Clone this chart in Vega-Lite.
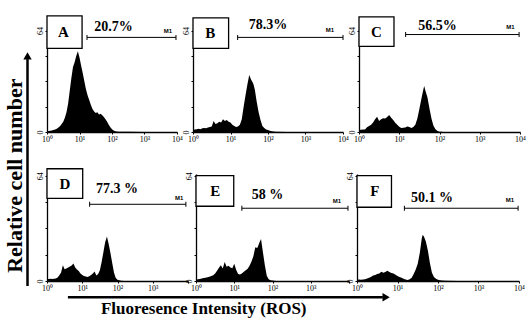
{
  "$schema": "https://vega.github.io/schema/vega-lite/v6.json",
  "background": "white",
  "padding": {"left": 2, "top": 15, "right": 2, "bottom": 0},
  "config": {
    "view": {"stroke": null},
    "font": "Liberation Serif",
    "axis": {"domainColor": "black", "tickColor": "black", "labelColor": "black", "grid": false, "labelFont": "Liberation Serif", "labelFontSize": 8, "tickSize": 2, "labelPadding": 1, "domainWidth": 1.3, "tickWidth": 1}
  },
  "datasets": {
    "hist": [
      {"x": 1, "A": 0.5, "B": 1.2, "C": 1.2, "D": 1.0, "E": 0.8, "F": 0.8},
      {"x": 1.12, "A": 0.6, "B": 1.5, "C": 1.4, "D": 1.2, "E": 1.0, "F": 0.9},
      {"x": 1.26, "A": 0.8, "B": 1.8, "C": 1.5, "D": 1.3, "E": 1.2, "F": 0.8},
      {"x": 1.41, "A": 1.0, "B": 2.0, "C": 1.6, "D": 1.2, "E": 1.5, "F": 0.9},
      {"x": 1.58, "A": 1.3, "B": 1.8, "C": 3.0, "D": 1.4, "E": 1.8, "F": 1.0},
      {"x": 1.78, "A": 1.6, "B": 2.3, "C": 3.8, "D": 1.5, "E": 2.0, "F": 1.5},
      {"x": 2, "A": 2.0, "B": 2.5, "C": 4.5, "D": 2.2, "E": 2.3, "F": 2.0},
      {"x": 2.24, "A": 2.8, "B": 2.4, "C": 6.0, "D": 3.5, "E": 2.6, "F": 2.6},
      {"x": 2.51, "A": 3.6, "B": 2.8, "C": 8.0, "D": 5.2, "E": 3.0, "F": 3.3},
      {"x": 2.82, "A": 5.0, "B": 3.2, "C": 9.7, "D": 9.6, "E": 3.5, "F": 3.7},
      {"x": 3.16, "A": 6.5, "B": 3.5, "C": 7.0, "D": 7.2, "E": 4.5, "F": 4.2},
      {"x": 3.55, "A": 9.0, "B": 7.0, "C": 8.0, "D": 7.6, "E": 6.2, "F": 4.6},
      {"x": 3.98, "A": 12.5, "B": 5.0, "C": 8.7, "D": 8.2, "E": 8.0, "F": 5.6},
      {"x": 4.47, "A": 18, "B": 5.5, "C": 8.5, "D": 8.8, "E": 9.5, "F": 5.0},
      {"x": 5.01, "A": 26, "B": 6.5, "C": 9.5, "D": 9.4, "E": 7.6, "F": 5.5},
      {"x": 5.62, "A": 34, "B": 6.0, "C": 10.7, "D": 10.6, "E": 11.5, "F": 6.2},
      {"x": 6.31, "A": 41, "B": 8.0, "C": 9.0, "D": 8.2, "E": 8.6, "F": 5.4},
      {"x": 7.08, "A": 44, "B": 7.0, "C": 7.5, "D": 7.0, "E": 9.3, "F": 4.8},
      {"x": 7.94, "A": 48, "B": 7.5, "C": 5.8, "D": 6.0, "E": 8.2, "F": 4.5},
      {"x": 8.91, "A": 51, "B": 6.5, "C": 4.5, "D": 4.5, "E": 7.8, "F": 3.8},
      {"x": 10, "A": 47, "B": 6.0, "C": 3.3, "D": 3.6, "E": 10.5, "F": 3.0},
      {"x": 11.2, "A": 42, "B": 4.5, "C": 2.6, "D": 3.0, "E": 6.8, "F": 2.5},
      {"x": 12.6, "A": 37, "B": 3.8, "C": 2.7, "D": 2.8, "E": 4.2, "F": 1.9},
      {"x": 14.1, "A": 32, "B": 3.2, "C": 2.9, "D": 2.5, "E": 3.9, "F": 1.3},
      {"x": 15.8, "A": 27, "B": 3.5, "C": 3.4, "D": 2.9, "E": 4.6, "F": 0.9},
      {"x": 17.8, "A": 23, "B": 4.5, "C": 3.2, "D": 3.6, "E": 5.6, "F": 0.6},
      {"x": 20, "A": 20, "B": 8.0, "C": 2.6, "D": 4.5, "E": 6.5, "F": 1.0},
      {"x": 22.4, "A": 17, "B": 16, "C": 3.2, "D": 5.8, "E": 7.5, "F": 2.0},
      {"x": 25.1, "A": 14.5, "B": 23, "C": 4.5, "D": 3.4, "E": 9.3, "F": 4.2},
      {"x": 28.2, "A": 13, "B": 30, "C": 8.5, "D": 4.2, "E": 11.8, "F": 7.0},
      {"x": 31.6, "A": 12, "B": 36, "C": 14.5, "D": 6.5, "E": 15, "F": 10.5},
      {"x": 35.5, "A": 12.5, "B": 33, "C": 21, "D": 11.5, "E": 20.5, "F": 17},
      {"x": 39.8, "A": 11, "B": 31, "C": 27, "D": 17.5, "E": 20, "F": 26},
      {"x": 41.7, "A": 11.2, "B": 29.5, "C": 29, "D": 20, "E": 21, "F": 28},
      {"x": 44.7, "A": 11.5, "B": 26.5, "C": 26, "D": 23.5, "E": 23, "F": 27.2},
      {"x": 50.1, "A": 10.5, "B": 19, "C": 22, "D": 27, "E": 25.5, "F": 24},
      {"x": 56.2, "A": 9.5, "B": 12.5, "C": 15, "D": 22.5, "E": 17.5, "F": 18.5},
      {"x": 63.1, "A": 8, "B": 7.5, "C": 8.5, "D": 17, "E": 9.5, "F": 11},
      {"x": 70.8, "A": 6.5, "B": 3.8, "C": 4, "D": 11, "E": 3.2, "F": 5},
      {"x": 79.4, "A": 4.5, "B": 2.5, "C": 1.8, "D": 5.2, "E": 1.1, "F": 2.5},
      {"x": 89.1, "A": 3, "B": 1.6, "C": 0.6, "D": 1.8, "E": 0.5, "F": 1.3},
      {"x": 100, "A": 1.8, "B": 1.2, "C": 0.2, "D": 0.8, "E": 0.3, "F": 0.8},
      {"x": 112, "A": 1, "B": 0.8, "C": 0.1, "D": 0.4, "E": 0.15, "F": 0.5},
      {"x": 126, "A": 0.5, "B": 0.4, "C": 0, "D": 0.2, "E": 0, "F": 0.3},
      {"x": 158, "A": 0.2, "B": 0.2, "C": 0, "D": 0, "E": 0, "F": 0.1},
      {"x": 316, "A": 0.1, "B": 0, "C": 0, "D": 0, "E": 0, "F": 0},
      {"x": 1000, "A": 0, "B": 0, "C": 0, "D": 0, "E": 0, "F": 0},
      {"x": 10000, "A": 0, "B": 0, "C": 0, "D": 0, "E": 0, "F": 0}
    ],
    "ann": [
      {"p": "A", "bx1": 1, "bx2": 12, "by1": 52.8, "by2": 73.3, "lab": "A", "lx": 3.2, "ly": 63, "pct": "20.7%", "tx": 112, "ty": 66.5, "m1a": 17, "m1b": 9300, "m1y": 59.7, "mx": 5250, "my": 64},
      {"p": "B", "bx1": 1, "bx2": 8.9, "by1": 52.8, "by2": 72, "lab": "B", "lx": 2.9, "ly": 62.4, "pct": "78.3%", "tx": 100, "ty": 67.7, "m1a": 15.5, "m1b": 10000, "m1y": 59.7, "mx": 4470, "my": 64.6},
      {"p": "C", "bx1": 1, "bx2": 7.4, "by1": 54, "by2": 72.7, "lab": "C", "lx": 2.7, "ly": 63.4, "pct": "56.5%", "tx": 89, "ty": 67.1, "m1a": 14.4, "m1b": 9500, "m1y": 61.5, "mx": 5750, "my": 66.5},
      {"p": "D", "bx1": 1, "bx2": 10.3, "by1": 50.2, "by2": 68.2, "lab": "D", "lx": 3.2, "ly": 59.2, "pct": "77.3 %", "tx": 97, "ty": 55.6, "m1a": 16.2, "m1b": 8700, "m1y": 46.6, "mx": 5600, "my": 50.2},
      {"p": "E", "bx1": 1, "bx2": 9.7, "by1": 45.4, "by2": 64, "lab": "E", "lx": 3.2, "ly": 54.4, "pct": "58 %", "tx": 74, "ty": 52, "m1a": 15.8, "m1b": 9400, "m1y": 44.2, "mx": 4800, "my": 48.4},
      {"p": "F", "bx1": 1, "bx2": 7.1, "by1": 44.8, "by2": 64, "lab": "F", "lx": 2.75, "ly": 54.4, "pct": "50.1 %", "tx": 71, "ty": 50.2, "m1a": 14.8, "m1b": 9500, "m1y": 44.2, "mx": 6000, "my": 49}
    ]
  },
  "spacing": 4,
  "hconcat": [
    {
      "width": 30, "height": 262,
      "data": {"values": [{"t": "Relative cell number", "tx": 0.42, "ty": 0.44, "ax": 0.85, "ay1": 0.019, "ay2": 0.885, "hy": 0.897}]},
      "layer": [
        {"mark": {"type": "text", "angle": 270, "font": "Liberation Serif", "fontWeight": "bold", "fontSize": 22, "baseline": "middle", "align": "center"},
         "encoding": {"text": {"field": "t"}, "x": {"field": "tx", "type": "quantitative", "scale": {"domain": [0, 1], "nice": false}, "axis": null}, "y": {"field": "ty", "type": "quantitative", "scale": {"domain": [0, 1], "nice": false}, "axis": null}}},
        {"mark": {"type": "rule", "strokeWidth": 2.5, "color": "black"},
         "encoding": {"x": {"field": "ax", "type": "quantitative", "axis": null}, "y": {"field": "ay1", "type": "quantitative", "axis": null}, "y2": {"field": "ay2"}}},
        {"mark": {"type": "point", "shape": "triangle-up", "filled": true, "color": "black", "size": 70, "opacity": 1},
         "encoding": {"x": {"field": "ax", "type": "quantitative", "axis": null}, "y": {"field": "hy", "type": "quantitative", "axis": null}}}
      ]
    },
    {
      "spacing": 1,
      "vconcat": [
        {
          "spacing": 25,
          "vconcat": [
            {
              "spacing": 16, "bounds": "flush",
              "hconcat": [
                {"width": 130, "height": 103, "resolve": {"axis": {"x": "independent", "y": "independent"}}, "layer": [
                  {"data": {"name": "hist"}, "mark": {"type": "area", "color": "black", "opacity": 1},
                   "encoding": {"x": {"field": "x", "type": "quantitative", "scale": {"type": "log", "domain": [1, 10000]}, "axis": {"values": [1, 10, 100, 1000, 10000], "labelExpr": "'10' + ['⁰','¹','²','³','⁴'][round(log(datum.value)/LN10)]", "title": null, "labelFlush": false}},
                                "y": {"field": "A", "type": "quantitative", "scale": {"domain": [0, 64]}, "axis": {"values": [0, 16, 32, 48, 64], "labelExpr": "datum.value == 0 || datum.value == 64 ? datum.label : ''", "labelAngle": 270, "title": null, "labelFlush": false}}}},
                  {"data": {"name": "ann"}, "transform": [{"filter": "datum.p == 'A'"}], "layer": [
                    {"mark": {"type": "rect", "fill": "white", "stroke": "black", "strokeWidth": 1.3, "clip": false}, "encoding": {"x": {"field": "bx1", "type": "quantitative", "axis": {"orient": "bottom", "values": [2, 3, 4, 5, 6, 7, 8, 9, 20, 30, 40, 50, 60, 70, 80, 90, 200, 300, 400, 500, 600, 700, 800, 900, 2000, 3000, 4000, 5000, 6000, 7000, 8000, 9000], "labels": false, "domain": false, "tickSize": 1.5, "title": null}}, "x2": {"field": "bx2"}, "y": {"field": "by1", "type": "quantitative", "axis": null}, "y2": {"field": "by2"}}},
                    {"mark": {"type": "text", "fontWeight": "bold", "fontSize": 15}, "encoding": {"text": {"field": "lab"}, "x": {"field": "lx", "type": "quantitative", "axis": null}, "y": {"field": "ly", "type": "quantitative", "axis": null}}},
                    {"mark": {"type": "text", "fontWeight": "bold", "fontSize": 14}, "encoding": {"text": {"field": "pct"}, "x": {"field": "tx", "type": "quantitative", "axis": null}, "y": {"field": "ty", "type": "quantitative", "axis": null}}},
                    {"mark": {"type": "rule", "strokeWidth": 1, "color": "black"}, "encoding": {"x": {"field": "m1a", "type": "quantitative", "axis": null}, "x2": {"field": "m1b"}, "y": {"field": "m1y", "type": "quantitative", "axis": null}}},
                    {"transform": [{"fold": ["m1a", "m1b"], "as": ["end", "ev"]}], "mark": {"type": "tick", "orient": "vertical", "size": 5, "thickness": 1, "color": "black", "opacity": 1}, "encoding": {"x": {"field": "ev", "type": "quantitative", "axis": null}, "y": {"field": "m1y", "type": "quantitative", "axis": null}}},
                    {"mark": {"type": "text", "font": "Liberation Sans", "fontWeight": "bold", "fontSize": 6}, "encoding": {"text": {"value": "M1"}, "x": {"field": "mx", "type": "quantitative", "axis": null}, "y": {"field": "my", "type": "quantitative", "axis": null}}}
                  ]}
                ]},
                {"width": 150, "height": 103, "resolve": {"axis": {"x": "independent", "y": "independent"}}, "layer": [
                  {"data": {"name": "hist"}, "mark": {"type": "area", "color": "black", "opacity": 1},
                   "encoding": {"x": {"field": "x", "type": "quantitative", "scale": {"type": "log", "domain": [1, 10000]}, "axis": {"values": [1, 10, 100, 1000, 10000], "labelExpr": "'10' + ['⁰','¹','²','³','⁴'][round(log(datum.value)/LN10)]", "title": null, "labelFlush": false}},
                                "y": {"field": "B", "type": "quantitative", "scale": {"domain": [0, 64]}, "axis": {"values": [0, 16, 32, 48, 64], "labelExpr": "datum.value == 0 || datum.value == 64 ? datum.label : ''", "labelAngle": 270, "title": null, "labelFlush": false}}}},
                  {"data": {"name": "ann"}, "transform": [{"filter": "datum.p == 'B'"}], "layer": [
                    {"mark": {"type": "rect", "fill": "white", "stroke": "black", "strokeWidth": 1.3, "clip": false}, "encoding": {"x": {"field": "bx1", "type": "quantitative", "axis": {"orient": "bottom", "values": [2, 3, 4, 5, 6, 7, 8, 9, 20, 30, 40, 50, 60, 70, 80, 90, 200, 300, 400, 500, 600, 700, 800, 900, 2000, 3000, 4000, 5000, 6000, 7000, 8000, 9000], "labels": false, "domain": false, "tickSize": 1.5, "title": null}}, "x2": {"field": "bx2"}, "y": {"field": "by1", "type": "quantitative", "axis": null}, "y2": {"field": "by2"}}},
                    {"mark": {"type": "text", "fontWeight": "bold", "fontSize": 15}, "encoding": {"text": {"field": "lab"}, "x": {"field": "lx", "type": "quantitative", "axis": null}, "y": {"field": "ly", "type": "quantitative", "axis": null}}},
                    {"mark": {"type": "text", "fontWeight": "bold", "fontSize": 14}, "encoding": {"text": {"field": "pct"}, "x": {"field": "tx", "type": "quantitative", "axis": null}, "y": {"field": "ty", "type": "quantitative", "axis": null}}},
                    {"mark": {"type": "rule", "strokeWidth": 1, "color": "black"}, "encoding": {"x": {"field": "m1a", "type": "quantitative", "axis": null}, "x2": {"field": "m1b"}, "y": {"field": "m1y", "type": "quantitative", "axis": null}}},
                    {"transform": [{"fold": ["m1a", "m1b"], "as": ["end", "ev"]}], "mark": {"type": "tick", "orient": "vertical", "size": 5, "thickness": 1, "color": "black", "opacity": 1}, "encoding": {"x": {"field": "ev", "type": "quantitative", "axis": null}, "y": {"field": "m1y", "type": "quantitative", "axis": null}}},
                    {"mark": {"type": "text", "font": "Liberation Sans", "fontWeight": "bold", "fontSize": 6}, "encoding": {"text": {"value": "M1"}, "x": {"field": "mx", "type": "quantitative", "axis": null}, "y": {"field": "my", "type": "quantitative", "axis": null}}}
                  ]}
                ]},
                {"width": 161, "height": 103, "resolve": {"axis": {"x": "independent", "y": "independent"}}, "layer": [
                  {"data": {"name": "hist"}, "mark": {"type": "area", "color": "black", "opacity": 1},
                   "encoding": {"x": {"field": "x", "type": "quantitative", "scale": {"type": "log", "domain": [1, 10000]}, "axis": {"values": [1, 10, 100, 1000, 10000], "labelExpr": "'10' + ['⁰','¹','²','³','⁴'][round(log(datum.value)/LN10)]", "title": null, "labelFlush": false}},
                                "y": {"field": "C", "type": "quantitative", "scale": {"domain": [0, 64]}, "axis": {"values": [0, 16, 32, 48, 64], "labelExpr": "datum.value == 0 || datum.value == 64 ? datum.label : ''", "labelAngle": 270, "title": null, "labelFlush": false}}}},
                  {"data": {"name": "ann"}, "transform": [{"filter": "datum.p == 'C'"}], "layer": [
                    {"mark": {"type": "rect", "fill": "white", "stroke": "black", "strokeWidth": 1.3, "clip": false}, "encoding": {"x": {"field": "bx1", "type": "quantitative", "axis": {"orient": "bottom", "values": [2, 3, 4, 5, 6, 7, 8, 9, 20, 30, 40, 50, 60, 70, 80, 90, 200, 300, 400, 500, 600, 700, 800, 900, 2000, 3000, 4000, 5000, 6000, 7000, 8000, 9000], "labels": false, "domain": false, "tickSize": 1.5, "title": null}}, "x2": {"field": "bx2"}, "y": {"field": "by1", "type": "quantitative", "axis": null}, "y2": {"field": "by2"}}},
                    {"mark": {"type": "text", "fontWeight": "bold", "fontSize": 15}, "encoding": {"text": {"field": "lab"}, "x": {"field": "lx", "type": "quantitative", "axis": null}, "y": {"field": "ly", "type": "quantitative", "axis": null}}},
                    {"mark": {"type": "text", "fontWeight": "bold", "fontSize": 14}, "encoding": {"text": {"field": "pct"}, "x": {"field": "tx", "type": "quantitative", "axis": null}, "y": {"field": "ty", "type": "quantitative", "axis": null}}},
                    {"mark": {"type": "rule", "strokeWidth": 1, "color": "black"}, "encoding": {"x": {"field": "m1a", "type": "quantitative", "axis": null}, "x2": {"field": "m1b"}, "y": {"field": "m1y", "type": "quantitative", "axis": null}}},
                    {"transform": [{"fold": ["m1a", "m1b"], "as": ["end", "ev"]}], "mark": {"type": "tick", "orient": "vertical", "size": 5, "thickness": 1, "color": "black", "opacity": 1}, "encoding": {"x": {"field": "ev", "type": "quantitative", "axis": null}, "y": {"field": "m1y", "type": "quantitative", "axis": null}}},
                    {"mark": {"type": "text", "font": "Liberation Sans", "fontWeight": "bold", "fontSize": 6}, "encoding": {"text": {"value": "M1"}, "x": {"field": "mx", "type": "quantitative", "axis": null}, "y": {"field": "my", "type": "quantitative", "axis": null}}}
                  ]}
                ]}
              ]
            },
            {
              "spacing": 8, "bounds": "flush",
              "hconcat": [
                {"width": 141, "height": 107, "resolve": {"axis": {"x": "independent", "y": "independent"}}, "layer": [
                  {"data": {"name": "hist"}, "mark": {"type": "area", "color": "black", "opacity": 1},
                   "encoding": {"x": {"field": "x", "type": "quantitative", "scale": {"type": "log", "domain": [1, 10000]}, "axis": {"values": [1, 10, 100, 1000, 10000], "labelExpr": "datum.value == 10000 ? '' : '10' + ['⁰','¹','²','³','⁴'][round(log(datum.value)/LN10)]", "title": null, "labelFlush": false}},
                                "y": {"field": "D", "type": "quantitative", "scale": {"domain": [0, 64]}, "axis": {"values": [0, 16, 32, 48, 64], "labelExpr": "datum.value == 0 || datum.value == 64 ? datum.label : ''", "labelAngle": 270, "title": null, "labelFlush": false}}}},
                  {"data": {"name": "ann"}, "transform": [{"filter": "datum.p == 'D'"}], "layer": [
                    {"mark": {"type": "rect", "fill": "white", "stroke": "black", "strokeWidth": 1.3, "clip": false}, "encoding": {"x": {"field": "bx1", "type": "quantitative", "axis": {"orient": "bottom", "values": [2, 3, 4, 5, 6, 7, 8, 9, 20, 30, 40, 50, 60, 70, 80, 90, 200, 300, 400, 500, 600, 700, 800, 900, 2000, 3000, 4000, 5000, 6000, 7000, 8000, 9000], "labels": false, "domain": false, "tickSize": 1.5, "title": null}}, "x2": {"field": "bx2"}, "y": {"field": "by1", "type": "quantitative", "axis": null}, "y2": {"field": "by2"}}},
                    {"mark": {"type": "text", "fontWeight": "bold", "fontSize": 15}, "encoding": {"text": {"field": "lab"}, "x": {"field": "lx", "type": "quantitative", "axis": null}, "y": {"field": "ly", "type": "quantitative", "axis": null}}},
                    {"mark": {"type": "text", "fontWeight": "bold", "fontSize": 14}, "encoding": {"text": {"field": "pct"}, "x": {"field": "tx", "type": "quantitative", "axis": null}, "y": {"field": "ty", "type": "quantitative", "axis": null}}},
                    {"mark": {"type": "rule", "strokeWidth": 1, "color": "black"}, "encoding": {"x": {"field": "m1a", "type": "quantitative", "axis": null}, "x2": {"field": "m1b"}, "y": {"field": "m1y", "type": "quantitative", "axis": null}}},
                    {"transform": [{"fold": ["m1a", "m1b"], "as": ["end", "ev"]}], "mark": {"type": "tick", "orient": "vertical", "size": 5, "thickness": 1, "color": "black", "opacity": 1}, "encoding": {"x": {"field": "ev", "type": "quantitative", "axis": null}, "y": {"field": "m1y", "type": "quantitative", "axis": null}}},
                    {"mark": {"type": "text", "font": "Liberation Sans", "fontWeight": "bold", "fontSize": 6}, "encoding": {"text": {"value": "M1"}, "x": {"field": "mx", "type": "quantitative", "axis": null}, "y": {"field": "my", "type": "quantitative", "axis": null}}}
                  ]}
                ]},
                {"width": 153, "height": 107, "resolve": {"axis": {"x": "independent", "y": "independent"}}, "layer": [
                  {"data": {"name": "hist"}, "mark": {"type": "area", "color": "black", "opacity": 1},
                   "encoding": {"x": {"field": "x", "type": "quantitative", "scale": {"type": "log", "domain": [1, 10000]}, "axis": {"values": [1, 10, 100, 1000, 10000], "labelExpr": "datum.value == 10000 ? '' : '10' + ['⁰','¹','²','³','⁴'][round(log(datum.value)/LN10)]", "title": null, "labelFlush": false}},
                                "y": {"field": "E", "type": "quantitative", "scale": {"domain": [0, 64]}, "axis": {"values": [0, 16, 32, 48, 64], "labelExpr": "datum.value == 0 || datum.value == 64 ? datum.label : ''", "labelAngle": 270, "title": null, "labelFlush": false}}}},
                  {"data": {"name": "ann"}, "transform": [{"filter": "datum.p == 'E'"}], "layer": [
                    {"mark": {"type": "rect", "fill": "white", "stroke": "black", "strokeWidth": 1.3, "clip": false}, "encoding": {"x": {"field": "bx1", "type": "quantitative", "axis": {"orient": "bottom", "values": [2, 3, 4, 5, 6, 7, 8, 9, 20, 30, 40, 50, 60, 70, 80, 90, 200, 300, 400, 500, 600, 700, 800, 900, 2000, 3000, 4000, 5000, 6000, 7000, 8000, 9000], "labels": false, "domain": false, "tickSize": 1.5, "title": null}}, "x2": {"field": "bx2"}, "y": {"field": "by1", "type": "quantitative", "axis": null}, "y2": {"field": "by2"}}},
                    {"mark": {"type": "text", "fontWeight": "bold", "fontSize": 15}, "encoding": {"text": {"field": "lab"}, "x": {"field": "lx", "type": "quantitative", "axis": null}, "y": {"field": "ly", "type": "quantitative", "axis": null}}},
                    {"mark": {"type": "text", "fontWeight": "bold", "fontSize": 14}, "encoding": {"text": {"field": "pct"}, "x": {"field": "tx", "type": "quantitative", "axis": null}, "y": {"field": "ty", "type": "quantitative", "axis": null}}},
                    {"mark": {"type": "rule", "strokeWidth": 1, "color": "black"}, "encoding": {"x": {"field": "m1a", "type": "quantitative", "axis": null}, "x2": {"field": "m1b"}, "y": {"field": "m1y", "type": "quantitative", "axis": null}}},
                    {"transform": [{"fold": ["m1a", "m1b"], "as": ["end", "ev"]}], "mark": {"type": "tick", "orient": "vertical", "size": 5, "thickness": 1, "color": "black", "opacity": 1}, "encoding": {"x": {"field": "ev", "type": "quantitative", "axis": null}, "y": {"field": "m1y", "type": "quantitative", "axis": null}}},
                    {"mark": {"type": "text", "font": "Liberation Sans", "fontWeight": "bold", "fontSize": 6}, "encoding": {"text": {"value": "M1"}, "x": {"field": "mx", "type": "quantitative", "axis": null}, "y": {"field": "my", "type": "quantitative", "axis": null}}}
                  ]}
                ]},
                {"width": 162, "height": 107, "resolve": {"axis": {"x": "independent", "y": "independent"}}, "layer": [
                  {"data": {"name": "hist"}, "mark": {"type": "area", "color": "black", "opacity": 1},
                   "encoding": {"x": {"field": "x", "type": "quantitative", "scale": {"type": "log", "domain": [1, 10000]}, "axis": {"values": [1, 10, 100, 1000, 10000], "labelExpr": "'10' + ['⁰','¹','²','³','⁴'][round(log(datum.value)/LN10)]", "title": null, "labelFlush": false}},
                                "y": {"field": "F", "type": "quantitative", "scale": {"domain": [0, 64]}, "axis": {"values": [0, 16, 32, 48, 64], "labelExpr": "datum.value == 0 || datum.value == 64 ? datum.label : ''", "labelAngle": 270, "title": null, "labelFlush": false}}}},
                  {"data": {"name": "ann"}, "transform": [{"filter": "datum.p == 'F'"}], "layer": [
                    {"mark": {"type": "rect", "fill": "white", "stroke": "black", "strokeWidth": 1.3, "clip": false}, "encoding": {"x": {"field": "bx1", "type": "quantitative", "axis": {"orient": "bottom", "values": [2, 3, 4, 5, 6, 7, 8, 9, 20, 30, 40, 50, 60, 70, 80, 90, 200, 300, 400, 500, 600, 700, 800, 900, 2000, 3000, 4000, 5000, 6000, 7000, 8000, 9000], "labels": false, "domain": false, "tickSize": 1.5, "title": null}}, "x2": {"field": "bx2"}, "y": {"field": "by1", "type": "quantitative", "axis": null}, "y2": {"field": "by2"}}},
                    {"mark": {"type": "text", "fontWeight": "bold", "fontSize": 15}, "encoding": {"text": {"field": "lab"}, "x": {"field": "lx", "type": "quantitative", "axis": null}, "y": {"field": "ly", "type": "quantitative", "axis": null}}},
                    {"mark": {"type": "text", "fontWeight": "bold", "fontSize": 14}, "encoding": {"text": {"field": "pct"}, "x": {"field": "tx", "type": "quantitative", "axis": null}, "y": {"field": "ty", "type": "quantitative", "axis": null}}},
                    {"mark": {"type": "rule", "strokeWidth": 1, "color": "black"}, "encoding": {"x": {"field": "m1a", "type": "quantitative", "axis": null}, "x2": {"field": "m1b"}, "y": {"field": "m1y", "type": "quantitative", "axis": null}}},
                    {"transform": [{"fold": ["m1a", "m1b"], "as": ["end", "ev"]}], "mark": {"type": "tick", "orient": "vertical", "size": 5, "thickness": 1, "color": "black", "opacity": 1}, "encoding": {"x": {"field": "ev", "type": "quantitative", "axis": null}, "y": {"field": "m1y", "type": "quantitative", "axis": null}}},
                    {"mark": {"type": "text", "font": "Liberation Sans", "fontWeight": "bold", "fontSize": 6}, "encoding": {"text": {"value": "M1"}, "x": {"field": "mx", "type": "quantitative", "axis": null}, "y": {"field": "my", "type": "quantitative", "axis": null}}}
                  ]}
                ]}
              ]
            }
          ]
        },
        {
          "width": 475, "height": 22,
          "data": {"values": [{"t": "Fluoresence Intensity (ROS)", "tx": 0.33, "ty": 0.3, "ax1": 0.044, "ax2": 0.707, "hx": 0.714, "ay": 0.85}]},
          "layer": [
            {"mark": {"type": "text", "font": "Liberation Serif", "fontWeight": "bold", "fontSize": 17, "baseline": "middle", "align": "center"},
             "encoding": {"text": {"field": "t"}, "x": {"field": "tx", "type": "quantitative", "scale": {"domain": [0, 1], "nice": false}, "axis": null}, "y": {"field": "ty", "type": "quantitative", "scale": {"domain": [0, 1], "nice": false}, "axis": null}}},
            {"mark": {"type": "rule", "strokeWidth": 2.5, "color": "black"},
             "encoding": {"x": {"field": "ax1", "type": "quantitative", "axis": null}, "x2": {"field": "ax2"}, "y": {"field": "ay", "type": "quantitative", "axis": null}}},
            {"mark": {"type": "point", "shape": "triangle-right", "filled": true, "color": "black", "size": 70, "opacity": 1},
             "encoding": {"x": {"field": "hx", "type": "quantitative", "axis": null}, "y": {"field": "ay", "type": "quantitative", "axis": null}}}
          ]
        }
      ]
    }
  ]
}
